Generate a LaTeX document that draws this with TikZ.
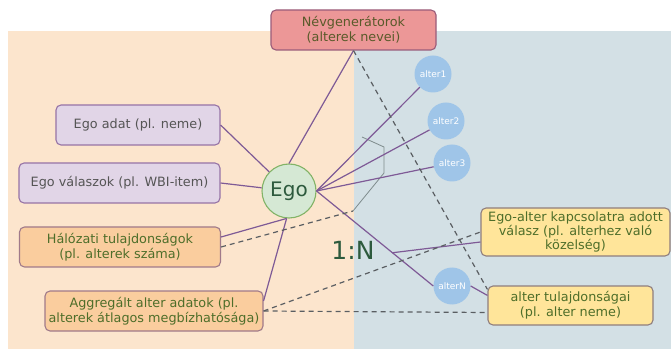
\documentclass[tikz,border=0pt]{standalone}
\usepackage{fontspec}
\setmainfont{DejaVu Sans}
\begin{document}
\begin{tikzpicture}[x=1pt,y=-1pt,
  box/.style={draw, rounded corners=5pt, line width=1.1pt, align=center, inner sep=2pt, font=\fontsize{12.8}{15}\selectfont},
  purplebox/.style={box, fill=pfill, draw=pdraw, text=ptext},
  orangebox/.style={box, fill=ofill, draw=odraw, text=otext},
  yellowbox/.style={box, fill=yfill, draw=ydraw, text=otext},
  redbox/.style={box, fill=rfill, draw=rdraw, text=rtext},
  alter/.style={circle, fill=afill, draw=none, minimum size=37pt, inner sep=0pt, text=white, font=\fontsize{9}{10}\selectfont},
  link/.style={draw=lcol, line width=1.2pt},
  dlink/.style={draw=dcol, line width=1.2pt, dashed, dash pattern=on 5pt off 4pt},
  brk/.style={draw=gcol, line width=0.8pt}
]
\definecolor{bgo}{HTML}{FCE5CD}
\definecolor{bgb}{HTML}{D3E0E5}
\definecolor{pfill}{HTML}{E1D5E7}
\definecolor{pdraw}{HTML}{9673A6}
\definecolor{ptext}{HTML}{555555}
\definecolor{ofill}{HTML}{FACD9E}
\definecolor{odraw}{HTML}{A07A8A}
\definecolor{otext}{HTML}{4E6E2A}
\definecolor{yfill}{HTML}{FFE59A}
\definecolor{ydraw}{HTML}{8F7E7E}
\definecolor{rfill}{HTML}{EC9797}
\definecolor{rdraw}{HTML}{9A5C7A}
\definecolor{rtext}{HTML}{5A5A2A}
\definecolor{gfill}{HTML}{D5E8D4}
\definecolor{gdraw}{HTML}{82B366}
\definecolor{gtext}{HTML}{2D5A3D}
\definecolor{afill}{HTML}{9FC5E8}
\definecolor{lcol}{HTML}{7E5A96}
\definecolor{dcol}{HTML}{5A5E62}
\definecolor{gcol}{HTML}{7F8C8D}
\useasboundingbox (0,0) rectangle (671,352);
\fill[white] (0,0) rectangle (671,352);
\fill[bgo] (8,31) rectangle (354,349);
\fill[bgb] (354,31) rectangle (671,349);

\node[redbox, minimum width=165pt, minimum height=40pt] (nev) at (353.5,30) {Névgenerátorok\\(alterek nevei)};
\node[purplebox, minimum width=164pt, minimum height=40pt] (adat) at (138,125) {Ego adat (pl. neme)};
\node[purplebox, minimum width=201pt, minimum height=40pt] (val) at (119.5,183) {Ego válaszok (pl. WBI-item)};
\node[orangebox, minimum width=201pt, minimum height=40pt] (hal) at (120,247) {Hálózati tulajdonságok\\(pl. alterek száma)};
\node[orangebox, minimum width=218pt, minimum height=40pt] (agg) at (154,311) {Aggregált alter adatok (pl.\\alterek átlagos megbízhatósága)};
\node[circle, fill=gfill, draw=gdraw, line width=1.1pt, minimum size=54pt, inner sep=0pt, text=gtext, font=\fontsize{20}{21}\selectfont] (ego) at (289,191) {Ego};
\node[alter] (a1) at (433,74) {alter1};
\node[alter] (a2) at (446,121) {alter2};
\node[alter] (a3) at (452,163) {alter3};
\node[alter] (aN) at (452,286) {alterN};
\node[yellowbox, minimum width=189pt, minimum height=48pt, font=\fontsize{12.8}{13.6}\selectfont] (ea) at (575.5,232) {Ego-alter kapcsolatra adott\\válasz (pl. alterhez való\\közelség)};
\node[yellowbox, minimum width=165pt, minimum height=39pt] (at) at (570.5,305.5) {alter tulajdonságai\\(pl. alter neme)};
\node[text=gtext, font=\fontsize{25}{27}\selectfont, inner sep=0pt] (ratio) at (353,250) {1:N};

% bracket over alters
\coordinate (b1) at (353,211);
\coordinate (b2) at (384,173);
\coordinate (b3) at (384,147);
\coordinate (b4) at (362,137);
\draw[brk] (b1) -- (b2) -- (b3) -- (b4);

% solid links
\draw[link] (ego.north) -- (nev.south);
\draw[link] (adat.east) -- (ego);
\draw[link] (val.east) -- (ego);
\draw[link] ([yshift=10pt]hal.east) -- (ego.-95);
\draw[link] ([yshift=10pt]agg.east) -- (ego.-95);
\draw[link] (ego.east) -- (a1);
\draw[link] (ego.east) -- (a2);
\draw[link] (ego.east) -- (a3);
\draw[link] (ego.east) -- coordinate[pos=0.65] (mid) (aN.west);
\draw[link] (mid) -- ([yshift=-10pt]ea.west);
\draw[link] (aN.east) -- ([yshift=-10pt]at.north west);

% dashed links
\draw[dlink] (hal.east) -- (b1);
\draw[dlink] (agg.east) -- (ea.west);
\draw[dlink] (agg.east) -- ([yshift=-7pt]at.west);
\draw[dlink] (nev.south) -- ([yshift=-4pt]at.north west);
\end{tikzpicture}
\end{document}
